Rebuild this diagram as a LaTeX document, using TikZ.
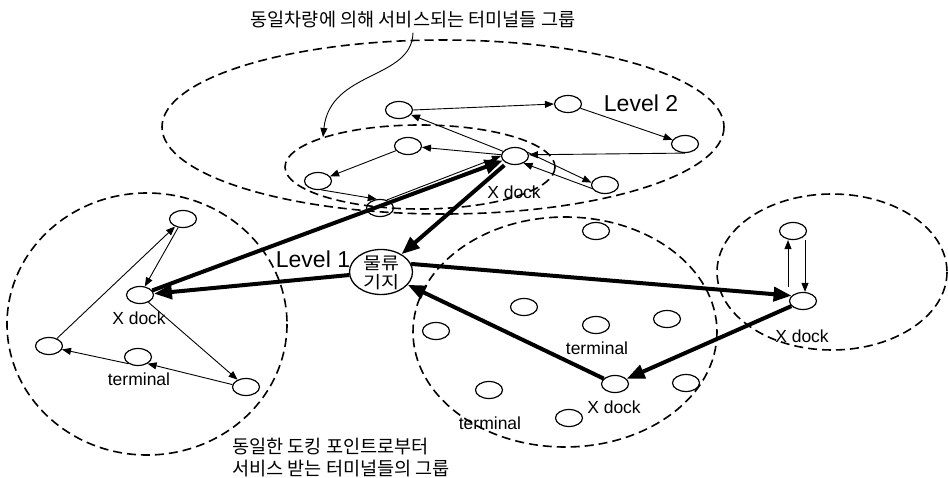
\documentclass[tikz,border=0pt]{standalone}
\usepackage{fontspec}
\setmainfont{Liberation Sans}
\newfontfamily\kr{Noto Sans CJK KR}
\newfontfamily\krwide{Noto Sans CJK KR}[FakeStretch=1.15]
\usetikzlibrary{shapes.geometric,arrows.meta,calc}
\tikzset{
  grp/.style={line width=1.6pt, dash pattern=on 9pt off 5pt},
  term/.style={draw, ellipse, line width=1.2pt, minimum width=27pt, minimum height=17pt, inner sep=0pt},
  basenode/.style={draw, ellipse, line width=1.3pt, minimum width=63pt, minimum height=45pt, inner sep=0pt},
  thinarr/.style={line width=0.9pt, -{Triangle[length=9pt,width=7pt]}},
  thickarr/.style={line width=4pt, -{Triangle[length=18pt,width=14pt]}},
  lvl/.style={font=\fontsize{23pt}{26pt}\selectfont, inner sep=0pt},
  xd/.style={font=\fontsize{17.5pt}{20pt}\selectfont, inner sep=0pt},
  krtxt/.style={font=\kr\fontsize{18.6pt}{22pt}\selectfont, inner sep=0pt},
  krbase/.style={font=\krwide\fontsize{17pt}{19pt}\selectfont, inner sep=0pt}
}
\begin{document}
\begin{tikzpicture}[x=1pt,y=-1pt]
\fill[white] (0,0) rectangle (948,478);
\useasboundingbox (0,0) rectangle (948,478);

% dashed groups
\draw[grp] (443,127) ellipse [x radius=281, y radius=87];
\draw[grp] (420,167) ellipse [x radius=135, y radius=42];
\draw[grp] (147,324) ellipse [x radius=140, y radius=131];
\draw[grp] (565,332) ellipse [x radius=152, y radius=115];
\draw[grp] (832,272) ellipse [x radius=115, y radius=78];

% Level 2 nodes
\node[term] (A) at (399,110) {};
\node[term] (B) at (568,104) {};
\node[term] (C) at (685,144) {};
\node[term] (D) at (515,156) {};
\node[term] (E) at (605,185) {};
\node[term] (F) at (408,146) {};
\node[term] (G) at (318,181) {};
\node[term] (H) at (380,208) {};

% base
\node[basenode] (base) at (381,272) {};
\node[krbase] (base1) at (381,263) {물류};
\node[krbase] (base2) at (381,282) {기지};

% left cluster
\node[term] (LT) at (183,219) {};
\node[term] (LX) at (140,295) {};
\node[term] (LL) at (49,346) {};
\node[term] (LM) at (138,357) {};
\node[term] (LB) at (246,387) {};

% middle cluster
\node[term] (M1) at (596,231) {};
\node[term] (M2) at (524,307) {};
\node[term] (M3) at (436,331) {};
\node[term] (M4) at (596,325) {};
\node[term] (M5) at (667,319) {};
\node[term] (M6) at (686,383) {};
\node[term] (M7) at (489,390) {};
\node[term] (M8) at (569,418) {};
\node[term] (MX) at (615,384) {};

% right cluster
\node[term] (RT) at (793,231) {};
\node[term] (RX) at (803,301) {};

% labels
\node[lvl] (lv2) at (641,103) {Level 2};
\node[lvl] (lv1) at (313,259) {Level 1};
\node[xd] (xd2) at (514,192) {X dock};
\node[xd] (xdl) at (139,318) {X dock};
\node[xd] (xdm) at (614,407) {X dock};
\node[xd] (xdr) at (802,336) {X dock};
\node[xd] (tl) at (139,379) {terminal};
\node[xd] (tm) at (597,348) {terminal};
\node[xd] (tb) at (490,423) {terminal};
\node[krtxt] (toptxt) at (413,20) {동일차량에 의해 서비스되는 터미널들 그룹};
\node[krtxt, anchor=west, align=left] (bottxt) at (232,458) {동일한 도킹 포인트로부터\\서비스 받는 터미널들의 그룹};

% annotation arrow
\draw[thinarr] ($(toptxt.south)+(0,4)$) .. controls (412,80) and (330,70) .. (323,137);

% Level 2 route
\draw[thinarr] (A.east) -- (B.west);
\draw[thinarr] (B) -- (C);
\draw[thinarr] (C.south) -- (D.5);
\draw[thinarr] (D) -- (A);
\draw[thinarr] (D) -- (F);
\draw[thinarr] (F) -- (G);
\draw[thinarr] (G.-70) -- (H.110);
\draw[thinarr] (H.50) -- (D.180);
\draw[thinarr] (D.15) -- (E.170);
\draw[thinarr] (E.195) -- (D.-40);

% left cluster route
\draw[thinarr] (LL) -- (LT);
\draw[thinarr] (LT) -- (LX);
\draw[thinarr] (LX) -- (LB);
\draw[thinarr] (LB.170) -- (LM.-35);
\draw[thinarr] (LM.-145) -- (LL.-15);

% right cluster route
\draw[thinarr] ([xshift=-15pt,yshift=5pt]RX.north) -- ([xshift=-5pt]RT.south);
\draw[thinarr] ([xshift=12pt]RT.south) -- ([xshift=2pt]RX.north);

% thick trunk links
\draw[thickarr] (LX) -- (D);
\draw[thickarr, shorten <=3pt] (D) -- (base);
\draw[thickarr] (base) -- (LX);
\draw[thickarr] (base.15) -- (RX.155);
\draw[thickarr] (MX) -- (base);
\draw[thickarr] (RX) -- (MX);
\end{tikzpicture}
\end{document}
